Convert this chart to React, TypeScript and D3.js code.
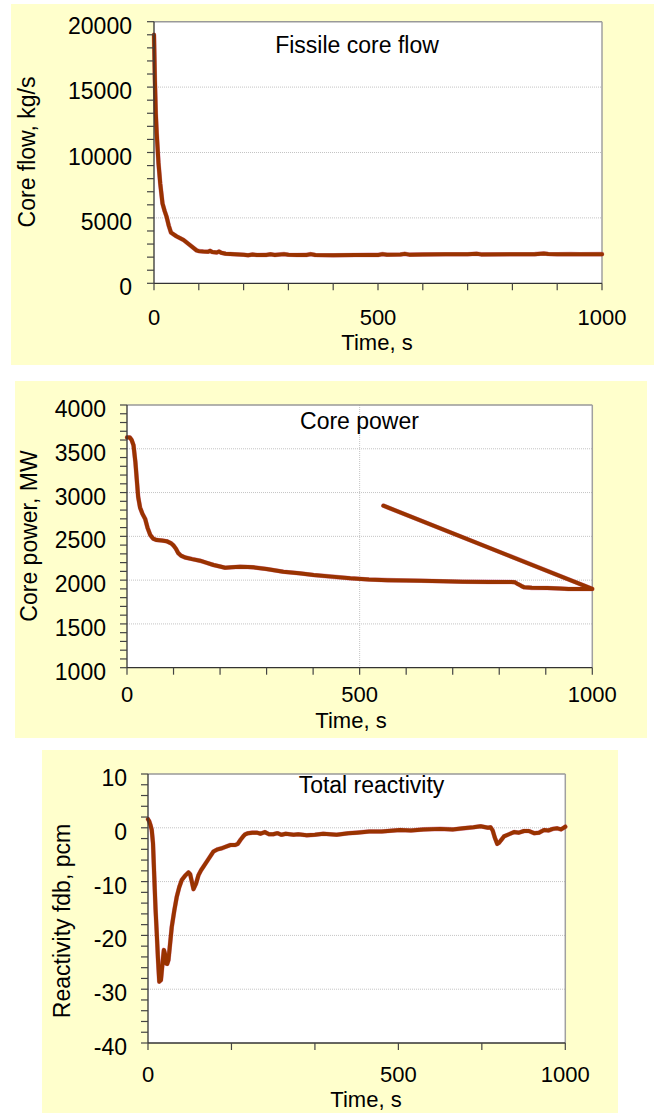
import React from "react";
import * as d3 from "d3";

// ---------------- data ----------------
const flowSeries: [number, number][] = [
  [0, 19000], [2, 15500], [4, 13000], [6, 11500], [10, 9200], [14, 7600], [19, 6100],
  [24, 5500], [28, 5100], [33, 4400], [38, 3870], [50, 3600], [66, 3310], [80, 2930],
  [95, 2520], [100, 2460], [110, 2430], [120, 2410], [125, 2480], [130, 2390],
  [140, 2350], [145, 2430], [150, 2330], [160, 2260], [180, 2220], [200, 2180],
  [210, 2150], [220, 2200], [230, 2160], [250, 2170], [260, 2220], [270, 2170],
  [290, 2230], [300, 2180], [320, 2160], [340, 2170], [350, 2230], [360, 2160],
  [400, 2150], [450, 2160], [480, 2170], [500, 2170], [510, 2230], [520, 2180],
  [550, 2200], [560, 2250], [570, 2190], [600, 2210], [650, 2220], [700, 2220],
  [720, 2260], [730, 2210], [800, 2220], [850, 2230], [870, 2280], [880, 2240],
  [900, 2220], [930, 2230], [950, 2220], [1000, 2230],
];

const powerSeries: [number, number][] = [
  [0, 3630], [6, 3630], [10, 3600], [14, 3540], [18, 3350], [21, 3150], [24, 2950],
  [28, 2830], [33, 2760], [39, 2700], [44, 2600], [50, 2515], [56, 2475], [64, 2458],
  [75, 2452], [85, 2445], [95, 2420], [100, 2395], [105, 2360], [110, 2310],
  [116, 2280], [125, 2258], [140, 2240], [157, 2222], [170, 2200], [186, 2173],
  [200, 2155], [211, 2142], [225, 2148], [243, 2153], [260, 2150], [272, 2146],
  [300, 2128], [336, 2096], [370, 2078], [401, 2059], [440, 2040], [480, 2021],
  [520, 2008], [560, 2000], [600, 1995], [632, 1993], [680, 1987], [722, 1982],
  [780, 1980], [826, 1979], [834, 1975], [840, 1955], [847, 1935], [854, 1918],
  [870, 1912], [903, 1910], [930, 1905], [949, 1899], [975, 1900], [1000, 1900],
  [551, 2850],
];

const reactivitySeries: [number, number][] = [
  [0, 1.6], [3, 1.2], [6, 0.5], [9, -0.4], [12, -2.9], [15, -9], [18, -15], [21, -19.6],
  [24, -24.5], [27, -28.6], [31, -28.3], [35, -25], [38, -22.7], [41, -23.5], [43, -25.2],
  [46, -25.3], [49, -24.6], [53, -21.5], [57, -18.4], [63, -15.4], [69, -12.8], [75, -11],
  [81, -9.7], [89, -8.9], [97, -8.3], [101, -8.6], [105, -10], [109, -11.4], [115, -10.4],
  [121, -8.8], [127, -7.9], [133, -7.2], [145, -5.8], [157, -4.4], [167, -4.0], [177, -3.8],
  [187, -3.5], [197, -3.2], [209, -3.2], [215, -3.0], [222, -2.2], [228, -1.6], [233, -1.2],
  [240, -1.0], [250, -0.9], [261, -0.9], [270, -1.1], [280, -0.8], [290, -1.2], [300, -1.2],
  [310, -1.0], [320, -1.3], [330, -1.1], [349, -1.3], [360, -1.2], [380, -1.4], [400, -1.3],
  [420, -1.1], [452, -1.3], [480, -1.0], [500, -0.9], [530, -0.7], [560, -0.7], [604, -0.4],
  [630, -0.5], [660, -0.3], [700, -0.2], [730, -0.3], [755, -0.1], [780, 0.1], [797, 0.3],
  [815, 0.0], [821, 0.1], [826, -0.5], [831, -1.8], [837, -3.0], [841, -2.8], [846, -2.3],
  [853, -1.6], [865, -1.2], [877, -0.8], [889, -0.9], [901, -0.6], [913, -0.6], [925, -1.0],
  [937, -0.9], [949, -0.4], [960, -0.5], [970, -0.2], [981, -0.1], [990, -0.3], [1000, 0.2],
];

const flowYTicks = [0, 5000, 10000, 15000, 20000];
const powerYTicks = [1000, 1500, 2000, 2500, 3000, 3500, 4000];
const reactYTicks = [-40, -30, -20, -10, 0, 10];
const timeTicks100 = [0, 100, 200, 300, 400, 500, 600, 700, 800, 900, 1000];
const timeTickLabels100 = ["0", "", "", "", "", "500", "", "", "", "", "1000"];
const timeTicks200 = [0, 200, 400, 600, 800, 1000];
const timeTickLabels200 = ["0", "", "", "500", "", "1000"];

// ---------------- drawing ----------------
const FONT = "'Liberation Sans', Arial, sans-serif";
const FS = 23;
const FSX = 22;
const LINE = "#993300";

type PanelProps = {
  bg: { x: number; y: number; w: number; h: number };
  plot: { l: number; r: number; t: number; b: number };
  yDomain: [number, number];
  yTicks: number[];
  yMinor: number;
  xTicks: number[];
  xTickLabels: string[];
  gridY: number[];
  gridX: number[];
  data: [number, number][];
  title: string;
  titlePos: [number, number];
  yLabel: string;
  yLabelPos: [number, number];
  xLabelPos: [number, number];
  yTickRight: number;
  xTickBaseline: number;
};

function Panel(p: PanelProps) {
  const x = d3.scaleLinear().domain([0, 1000]).range([p.plot.l, p.plot.r]);
  const y = d3.scaleLinear().domain(p.yDomain).range([p.plot.b, p.plot.t]);
  const minor = d3.range(p.yDomain[0], p.yDomain[1] + p.yMinor / 2, p.yMinor);
  const line = d3
    .line<[number, number]>()
    .x((d) => x(d[0]))
    .y((d) => y(d[1]));
  const path = line(p.data) || "";
  return (
    <g>
      <rect x={p.bg.x} y={p.bg.y} width={p.bg.w} height={p.bg.h} fill="#ffffcc" />
      <rect
        x={p.plot.l}
        y={p.plot.t}
        width={p.plot.r - p.plot.l}
        height={p.plot.b - p.plot.t}
        fill="#ffffff"
      />
      {p.gridY.map((v) => (
        <line
          key={"gy" + v}
          x1={p.plot.l}
          x2={p.plot.r}
          y1={y(v)}
          y2={y(v)}
          stroke="#c4c4c4"
          strokeWidth={1}
          strokeDasharray="1,1"
        />
      ))}
      {p.gridX.map((v) => (
        <line
          key={"gx" + v}
          x1={x(v)}
          x2={x(v)}
          y1={p.plot.t}
          y2={p.plot.b}
          stroke="#c4c4c4"
          strokeWidth={1}
          strokeDasharray="1,1"
        />
      ))}
      <line x1={p.plot.l} x2={p.plot.r} y1={p.plot.t} y2={p.plot.t} stroke="#999" strokeWidth={1.5} />
      <line x1={p.plot.r} x2={p.plot.r} y1={p.plot.t} y2={p.plot.b} stroke="#a0a0a0" strokeWidth={1.5} />
      <path
        d={path}
        fill="none"
        stroke="#c0306a"
        strokeWidth={4.6}
        strokeLinejoin="round"
        strokeLinecap="round"
        opacity={0.5}
      />
      <path
        d={path}
        fill="none"
        stroke={LINE}
        strokeWidth={4}
        strokeLinejoin="round"
        strokeLinecap="round"
      />
      <line x1={p.plot.l} x2={p.plot.l} y1={p.plot.t} y2={p.plot.b} stroke="#333" strokeWidth={1.3} />
      <line x1={p.plot.l} x2={p.plot.r} y1={p.plot.b} y2={p.plot.b} stroke="#333" strokeWidth={1.3} />
      {minor.map((v) => (
        <line
          key={"ym" + v}
          x1={p.plot.l - 7}
          x2={p.plot.l}
          y1={y(v)}
          y2={y(v)}
          stroke="#444"
          strokeWidth={1.2}
        />
      ))}
      {p.xTicks.map((v) => (
        <line
          key={"xt" + v}
          x1={x(v)}
          x2={x(v)}
          y1={p.plot.b}
          y2={p.plot.b + 7}
          stroke="#444"
          strokeWidth={1.2}
        />
      ))}
      {p.yTicks.map((v) => (
        <text
          key={"yl" + v}
          x={p.yTickRight}
          y={y(v) + 12}
          textAnchor="end"
          fontFamily={FONT}
          fontSize={FS}
          fill="#000"
        >
          {String(v)}
        </text>
      ))}
      {p.xTicks.map((v, i) =>
        p.xTickLabels[i] ? (
          <text
            key={"xl" + v}
            x={x(v)}
            y={p.xTickBaseline}
            textAnchor="middle"
            fontFamily={FONT}
            fontSize={FSX}
            fill="#000"
          >
            {p.xTickLabels[i]}
          </text>
        ) : null
      )}
      <text
        x={p.titlePos[0]}
        y={p.titlePos[1]}
        textAnchor="middle"
        fontFamily={FONT}
        fontSize={FS}
        fill="#000"
      >
        {p.title}
      </text>
      <text
        x={p.xLabelPos[0]}
        y={p.xLabelPos[1]}
        textAnchor="middle"
        fontFamily={FONT}
        fontSize={FSX}
        fill="#000"
      >
        Time, s
      </text>
      <text
        transform={`translate(${p.yLabelPos[0]},${p.yLabelPos[1]}) rotate(-90)`}
        textAnchor="middle"
        fontFamily={FONT}
        fontSize={FS}
        fill="#000"
      >
        {p.yLabel}
      </text>
    </g>
  );
}

export default function App() {
  return (
    <svg
      width={657}
      height={1115}
      style={{ position: "absolute", left: 0, top: 0, background: "#ffffff" }}
    >
      <Panel
        bg={{ x: 11, y: 4, w: 643, h: 361 }}
        plot={{ l: 154, r: 602, t: 21.7, b: 283.3 }}
        yDomain={[0, 20000]}
        yTicks={flowYTicks}
        yMinor={1000}
        xTicks={timeTicks100}
        xTickLabels={timeTickLabels100}
        gridY={[5000, 10000, 15000]}
        gridX={[]}
        data={flowSeries}
        title="Fissile core flow"
        titlePos={[357, 53]}
        yLabel="Core flow, kg/s"
        yLabelPos={[35, 152]}
        xLabelPos={[377, 350.3]}
        yTickRight={132}
        xTickBaseline={325}
      />
      <Panel
        bg={{ x: 15, y: 381, w: 632, h: 357 }}
        plot={{ l: 127, r: 592.3, t: 405, b: 667.7 }}
        yDomain={[1000, 4000]}
        yTicks={powerYTicks}
        yMinor={100}
        xTicks={timeTicks100}
        xTickLabels={timeTickLabels100}
        gridY={[1500, 2000, 2500, 3000, 3500]}
        gridX={[500]}
        data={powerSeries}
        title="Core power"
        titlePos={[359.5, 429]}
        yLabel="Core power, MW"
        yLabelPos={[36.5, 536]}
        xLabelPos={[351, 727.8]}
        yTickRight={106}
        xTickBaseline={701.5}
      />
      <Panel
        bg={{ x: 42, y: 750, w: 576, h: 363 }}
        plot={{ l: 148, r: 565.3, t: 774, b: 1043 }}
        yDomain={[-40, 10]}
        yTicks={reactYTicks}
        yMinor={2}
        xTicks={timeTicks200}
        xTickLabels={timeTickLabels200}
        gridY={[-30, -20, -10, 0]}
        gridX={[]}
        data={reactivitySeries}
        title="Total reactivity"
        titlePos={[371.5, 793]}
        yLabel="Reactivity fdb, pcm"
        yLabelPos={[69.5, 921]}
        xLabelPos={[366, 1106.6]}
        yTickRight={127}
        xTickBaseline={1081.5}
      />
    </svg>
  );
}
